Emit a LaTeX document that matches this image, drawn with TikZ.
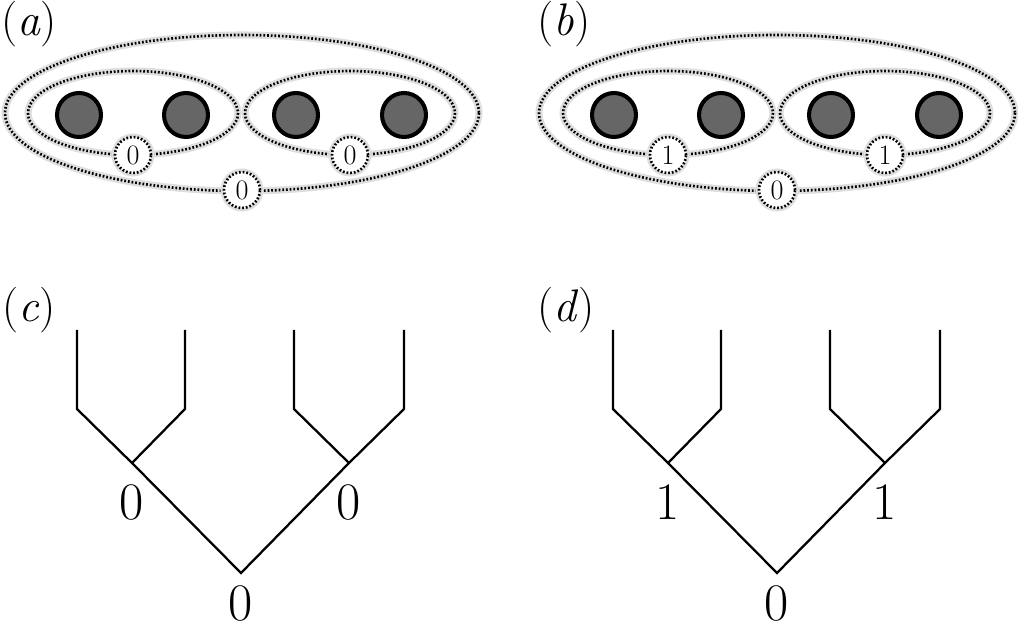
\documentclass[tikz,border=0pt]{standalone}
\usepackage{fontspec}
\begin{document}
\begin{tikzpicture}[x=.02cm,y=-.02cm,
    ring/.style={line width=1.5pt,dash pattern=on 1pt off 1.1pt,preaction={draw=black!13,line width=4pt,solid}},
    ball/.style={circle,draw,line width=2.3pt,fill=black!60,minimum size=.88cm,inner sep=0pt},
    tag/.style={circle,draw,ring,fill=white,minimum size=.72cm,inner sep=0pt,font=\fontsize{16}{18}\selectfont},
    tree/.style={line width=1.3pt},
    lab/.style={inner sep=0pt,font=\fontsize{26}{30}\selectfont},
    num/.style={inner sep=0pt,font=\fontsize{30}{34}\selectfont}]
            \useasboundingbox(0,0)rectangle(1018,628);
            % (a)
            \node[lab](la)at(29,24){(\textit{a})};
            \draw[ring](242,113)ellipse(237 and 78);
            \draw[ring](133,113)ellipse(105 and 42);
            \draw[ring](350,113)ellipse(105 and 42);
            \node[ball](a1)at(79,115){};
            \node[ball](a2)at(186,115){};
            \node[ball](a3)at(296,115){};
            \node[ball](a4)at(404,115){};
            \node[tag](ta1)at(133,155){0};
            \node[tag](ta2)at(350,155){0};
            \node[tag](ta0)at(242,190){0};
            % (b)
            \node[lab](lb)at(564,24){(\textit{b})};
            \draw[ring](777,113)ellipse(238 and 78);
            \draw[ring](668,113)ellipse(105 and 42);
            \draw[ring](885,113)ellipse(105 and 42);
            \node[ball](b1)at(614,115){};
            \node[ball](b2)at(721,115){};
            \node[ball](b3)at(831,115){};
            \node[ball](b4)at(939,115){};
            \node[tag](tb1)at(668,155){1};
            \node[tag](tb2)at(885,155){1};
            \node[tag](tb0)at(777,190){0};
            % (c)
            \node[lab](lc)at(29,310){(\textit{c})};
            \coordinate(c1)at(77,330);\coordinate(c1k)at(77,409);
            \coordinate(c2)at(185,330);\coordinate(c2k)at(185,409);
            \coordinate(c3)at(294,330);\coordinate(c3k)at(294,409);
            \coordinate(c4)at(404,330);\coordinate(c4k)at(404,409);
            \coordinate(cl)at(132,463);\coordinate(cr)at(349,463);
            \coordinate(c0)at(241,573);
            \draw[tree](c1)--(c1k)--(cl)--(c0)--(cr)--(c4k)--(c4);
            \draw[tree](c2)--(c2k)--(cl);
            \draw[tree](c3)--(c3k)--(cr);
            \node[num](ncl)at(132,502){0};
            \node[num](ncr)at(349,502){0};
            \node[num](nc0)at(241,603){0};
            % (d)
            \node[lab](ld)at(566,310){(\textit{d})};
            \coordinate(d1)at(613,330);\coordinate(d1k)at(613,409);
            \coordinate(d2)at(721,330);\coordinate(d2k)at(721,409);
            \coordinate(d3)at(830,330);\coordinate(d3k)at(830,409);
            \coordinate(d4)at(940,330);\coordinate(d4k)at(940,409);
            \coordinate(dl)at(668,463);\coordinate(dr)at(885,463);
            \coordinate(d0)at(777,573);
            \draw[tree](d1)--(d1k)--(dl)--(d0)--(dr)--(d4k)--(d4);
            \draw[tree](d2)--(d2k)--(dl);
            \draw[tree](d3)--(d3k)--(dr);
            \node[num](ndl)at(668,502){1};
            \node[num](ndr)at(885,502){1};
            \node[num](nd0)at(777,603){0};
        \end{tikzpicture}
\end{document}
